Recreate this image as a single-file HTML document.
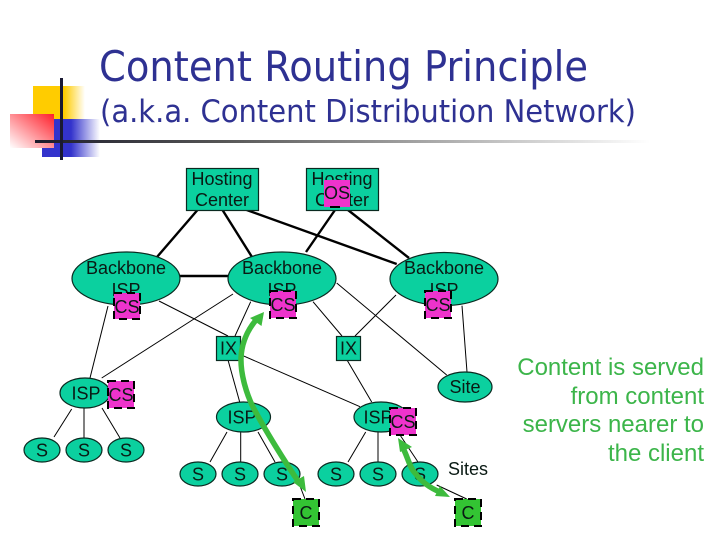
<!DOCTYPE html>
<html>
<head>
<meta charset="utf-8">
<style>
html,body{margin:0;padding:0;background:#fff;width:720px;height:540px;overflow:hidden}
svg{display:block}
text{font-family:"Liberation Sans",Arial,sans-serif;font-size:18px;fill:#0a1a14;text-anchor:middle}
.t{font-family:"DejaVu Sans",sans-serif;fill:#2e3192;text-anchor:start}
.g{font-size:24px;fill:#3cb54a;text-anchor:end}
.n{fill:#0bd09f;stroke:#0a2a20;stroke-width:1.2}
.k{stroke:#000;stroke-width:2.4;fill:none}
.h{stroke:#000;stroke-width:1;fill:none}
.cs{fill:#ee33cc;stroke:#000;stroke-width:2;stroke-dasharray:8 5}
.c{fill:#33c433;stroke:#000;stroke-width:2;stroke-dasharray:8 5}
.ar{fill:none;stroke:#3dbb3d;stroke-width:5.5}
.ah{fill:#3dbb3d}
</style>
</head>
<body>
<svg width="720" height="540" viewBox="0 0 720 540" xmlns="http://www.w3.org/2000/svg">
<defs>
<linearGradient id="y" x1="0" x2="1" y1="0" y2="0"><stop offset="0" stop-color="#ffcc00"/><stop offset=".6" stop-color="#ffcc00"/><stop offset="1" stop-color="#fff"/></linearGradient>
<linearGradient id="b" x1="0" x2="1" y1="0" y2="0"><stop offset="0" stop-color="#3333cc"/><stop offset=".5" stop-color="#3333cc"/><stop offset="1" stop-color="#fff"/></linearGradient>
<linearGradient id="r" x1="1" x2="0" y1="0" y2="1"><stop offset="0" stop-color="#ff1f2a"/><stop offset="1" stop-color="#fff"/></linearGradient>
<linearGradient id="l" x1="0" x2="1" y1="0" y2="0"><stop offset="0" stop-color="#1c1c2c"/><stop offset=".3" stop-color="#555"/><stop offset="1" stop-color="#fff"/></linearGradient>
</defs>

<!-- logo -->
<rect x="33" y="86" width="52" height="33" fill="url(#y)"/>
<rect x="42" y="119" width="58" height="38" fill="url(#b)"/>
<rect x="10" y="114" width="44" height="34" fill="url(#r)"/>
<rect x="35" y="140" width="615" height="3" fill="url(#l)"/>
<rect x="60" y="78" width="3" height="82" fill="#1a1a33"/>

<!-- title -->
<text class="t" x="99" y="81" style="font-size:42px" textLength="489" lengthAdjust="spacingAndGlyphs">Content Routing Principle</text>
<text class="t" x="100" y="122" style="font-size:31px" textLength="536" lengthAdjust="spacingAndGlyphs">(a.k.a. Content Distribution Network)</text>

<!-- thick links -->
<path class="k" d="M197.5 210L157 257M222.5 210L252 257M246.7 210L396.7 264M335 210L306 252M348 210L409 258M180 276H229"/>

<!-- thin links -->
<path class="h" d="M108 306L90 378M233 294L101.7 378M159 301L228 336M250.7 301.7L235 336M313 301.7L342 336M396 295L355 336M336.7 283L446.7 375M462 305.7L467 372M228 360L239.7 402M243 355.7L360 406.7M347 360L371.7 402M71.7 409L54 437M84 408V438M102 408L120 438M227 432L210 462M240.7 432V462M258 432L275 462M365.7 432L348 462M378 432V462M398 432L418 462M300 486L305 499M436.7 485L466.7 499"/>

<!-- hosting centers -->
<rect class="n" x="186.5" y="168.5" width="72" height="42"/>
<text x="222" y="185">Hosting</text><text x="222" y="206">Center</text>
<rect class="n" x="306.5" y="168.5" width="72" height="42"/>
<text x="342" y="185">Hosting</text><text x="342" y="206">Center</text>
<rect x="324" y="180" width="26" height="27" fill="#ee33cc"/>
<path d="M330 207h10" stroke="#000" stroke-width="2"/>
<text x="337" y="199">OS</text>

<!-- backbones -->
<ellipse class="n" cx="126" cy="278.5" rx="54" ry="26.5"/>
<text x="126" y="274">Backbone</text><text x="126" y="296">ISP</text>
<rect class="cs" x="114" y="293" width="26" height="26"/><text x="127" y="313">CS</text>
<ellipse class="n" cx="282" cy="278.5" rx="54" ry="26.5"/>
<text x="282" y="274">Backbone</text><text x="282" y="296">ISP</text>
<rect class="cs" x="270" y="291" width="26" height="27"/><text x="283" y="311">CS</text>
<ellipse class="n" cx="444" cy="279" rx="54" ry="26.5"/>
<text x="444" y="274">Backbone</text><text x="444" y="296">ISP</text>
<rect class="cs" x="425" y="291" width="26" height="27"/><text x="438" y="311">CS</text>

<!-- IX -->
<rect class="n" x="216.5" y="336.5" width="24" height="24"/><text x="228.5" y="354.5">IX</text>
<rect class="n" x="336.5" y="336.5" width="24" height="24"/><text x="348.5" y="354.5">IX</text>

<!-- ISPs -->
<ellipse class="n" cx="85" cy="393" rx="25" ry="15"/><text x="86" y="399.5">ISP</text>
<rect class="cs" x="108" y="381" width="26" height="27"/><text x="121" y="401">CS</text>
<ellipse class="n" cx="243.5" cy="417" rx="27" ry="15"/><text x="242" y="423.5">ISP</text>
<ellipse class="n" cx="381" cy="417" rx="27" ry="15"/><text x="378" y="423.5">ISP</text>
<rect class="cs" x="390" y="408" width="26" height="27"/><text x="403" y="428">CS</text>
<ellipse class="n" cx="465" cy="387" rx="27" ry="15"/><text x="465" y="393">Site</text>

<!-- S nodes -->
<ellipse class="n" cx="42" cy="450" rx="18" ry="12"/><text x="42" y="456.5">S</text>
<ellipse class="n" cx="84" cy="450" rx="18" ry="12"/><text x="84" y="456.5">S</text>
<ellipse class="n" cx="126" cy="450" rx="18" ry="12"/><text x="126" y="456.5">S</text>
<ellipse class="n" cx="198" cy="474" rx="18" ry="12"/><text x="198" y="480.5">S</text>
<ellipse class="n" cx="240" cy="474" rx="18" ry="12"/><text x="240" y="480.5">S</text>
<ellipse class="n" cx="282" cy="474" rx="18" ry="12"/><text x="282" y="480.5">S</text>
<ellipse class="n" cx="336" cy="474" rx="18" ry="12"/><text x="336" y="480.5">S</text>
<ellipse class="n" cx="378" cy="474" rx="18" ry="12"/><text x="378" y="480.5">S</text>
<ellipse class="n" cx="420" cy="474" rx="18" ry="12"/><text x="420" y="480.5">S</text>
<text x="468" y="475">Sites</text>

<!-- clients -->
<rect class="c" x="293" y="499" width="26" height="27"/><text x="306" y="519">C</text>
<rect class="c" x="455" y="499" width="26" height="27"/><text x="468" y="519">C</text>

<!-- green arrows -->
<path class="ar" d="M256 320C246 332 241.5 345 241 358C240.5 375 247 395 253 407C265 430 285 462 300 484"/>
<polygon class="ah" points="264,312 261.5,326 250,318"/>
<polygon class="ah" points="306,492 293,482 304,476"/>
<path class="ar" d="M403 448C408 458 410 468 415 473C421 481 430 488 440 492"/>
<polygon class="ah" points="398,438 412,447 400,452"/>
<polygon class="ah" points="450,497 435,496 440,486"/>

<!-- side text -->
<text class="g" x="704" y="375">Content is served</text>
<text class="g" x="704" y="404">from content</text>
<text class="g" x="704" y="432">servers nearer to</text>
<text class="g" x="704" y="461">the client</text>
</svg>
</body>
</html>
